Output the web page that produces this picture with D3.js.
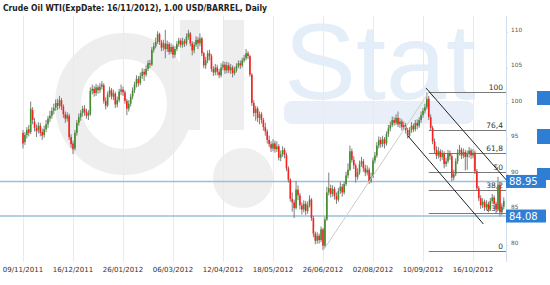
<!DOCTYPE html>
<html>
<head>
<meta charset="utf-8">
<script src="https://cdn.jsdelivr.net/npm/d3@7"></script>
<style>
body { margin: 0; background: #fff; }
svg { display: block; font-family: "DejaVu Sans", Verdana, sans-serif; }
</style>
</head>
<body>
<script>
const title = 'Crude Oil WTI(ExpDate: 16/11/2012), 1.00 USD/BARREL, Daily'

// tick labels, one every 26 bars
const dates = ['09/11/2011', '16/12/2011', '26/01/2012', '06/03/2012', '12/04/2012',
    '18/05/2012', '26/06/2012', '02/08/2012', '10/09/2012', '16/10/2012']
const yTicks = [80, 85, 90, 95, 100, 105, 110]

// daily bars
const opens = [
    95.8, 94.5, 95.5, 96.3, 95.9, 99.0, 97.4, 96.5, 96.2, 96.8,
    95.9, 95.5, 96.3, 97.0, 97.8, 98.2, 98.9, 99.3, 100.0, 99.6,
    100.4, 99.5, 98.4, 97.8, 98.2, 95.2, 94.3, 93.6, 95.8, 97.2,
    98.0, 98.6, 99.2, 98.8, 98.2, 98.4, 101.7, 102.0, 101.4, 102.2,
    101.8, 102.3, 102.5, 100.3, 99.7, 101.2, 101.8, 100.9, 101.3, 99.8,
    100.4, 101.6, 101.9, 101.5, 100.3, 99.2, 99.9, 100.9, 101.8, 102.6,
    103.4, 102.8, 103.8, 104.4, 104.0, 104.8, 105.6, 105.4, 107.5, 108.0,
    108.6, 109.7, 108.6, 107.8, 108.4, 107.6, 108.3, 107.2, 107.9, 106.8,
    107.6, 108.3, 108.8, 108.2, 108.7, 108.4, 109.3, 109.8, 108.4, 107.4,
    108.2, 108.9, 108.4, 109.1, 107.0, 105.3, 106.0, 107.0, 106.6, 104.8,
    104.3, 105.0, 104.4, 103.9, 105.0, 105.4, 104.6, 105.3, 104.6, 105.0,
    104.2, 104.6, 105.2, 105.6, 105.3, 106.0, 106.3, 107.0, 106.6, 104.0,
    100.0, 98.6, 99.2, 97.9, 98.4, 97.6, 96.6, 96.0, 94.8, 94.2,
    93.6, 94.3, 93.5, 93.9, 92.3, 92.8, 93.4, 92.7, 90.8, 89.2,
    86.5, 86.0, 85.2, 87.8, 87.0, 85.6, 85.0, 85.8, 84.8, 85.6,
    86.4, 83.8, 81.6, 80.6, 81.3, 80.7, 82.2, 79.9, 83.6, 87.4,
    88.0, 87.2, 87.9, 86.9, 86.4, 87.6, 88.2, 87.4, 88.6, 89.8,
    90.6, 93.2, 92.0, 91.2, 89.6, 90.2, 91.4, 91.8, 90.8, 90.2,
    90.6, 89.0, 89.6, 91.9, 92.6, 94.0, 94.8, 94.2, 94.9, 94.3,
    95.6, 96.4, 96.9, 97.6, 97.2, 97.9, 97.0, 97.4, 96.6, 96.9,
    96.2, 95.4, 96.2, 96.8, 96.3, 97.2, 96.8, 97.6, 98.3, 98.9,
    99.4, 100.6, 98.0, 96.5, 94.6, 93.4, 92.6, 93.2, 92.4, 92.9,
    91.4, 91.8, 92.9, 92.5, 89.5, 90.0, 91.8, 93.0, 93.4, 92.6,
    93.1, 92.4, 92.8, 93.3, 92.6, 93.0, 90.4, 88.0, 86.6, 85.6,
    86.1, 85.3, 85.8, 85.0, 86.2, 86.7, 85.8, 85.0, 88.5, 84.6,
    85.4
]
const highs = [
    96.2, 95.9, 96.6, 96.9, 100.2, 99.4, 97.9, 97.0, 97.3, 97.2,
    96.4, 96.8, 97.6, 98.2, 98.9, 99.4, 99.9, 100.5, 100.6, 101.0,
    100.7, 99.8, 98.8, 98.7, 98.5, 95.6, 94.7, 96.2, 97.6, 98.5,
    99.0, 99.6, 99.7, 99.2, 99.0, 102.2, 102.6, 102.4, 102.7, 102.5,
    102.8, 103.1, 102.8, 100.8, 101.6, 102.3, 102.1, 101.9, 101.6, 100.9,
    102.0, 102.6, 102.3, 101.8, 100.6, 100.4, 101.3, 102.2, 103.0, 103.9,
    103.8, 104.3, 104.9, 104.8, 105.3, 106.0, 106.1, 107.9, 108.5, 109.2,
    110.1, 109.9, 108.9, 108.9, 110.3, 108.8, 108.6, 108.4, 108.2, 108.0,
    108.7, 109.2, 109.1, 109.2, 109.0, 109.8, 110.3, 110.0, 108.7, 108.6,
    109.4, 109.3, 109.8, 109.3, 107.2, 106.5, 107.4, 107.5, 106.9, 105.2,
    105.5, 105.4, 104.8, 105.6, 105.9, 105.8, 105.8, 105.7, 105.5, 105.3,
    105.1, 105.6, 106.0, 106.0, 106.4, 106.8, 107.6, 107.3, 106.8, 104.2,
    100.4, 99.6, 99.5, 98.8, 98.7, 97.9, 97.2, 96.3, 95.4, 94.6,
    94.9, 94.7, 94.6, 94.2, 93.3, 93.9, 93.7, 93.0, 91.1, 89.4,
    87.4, 86.4, 89.0, 88.4, 87.3, 86.0, 86.3, 86.2, 86.1, 87.0,
    86.6, 84.1, 81.9, 81.8, 81.6, 82.6, 82.4, 84.0, 88.2, 90.2,
    88.5, 88.4, 88.2, 87.4, 88.0, 88.9, 88.6, 89.0, 90.3, 91.5,
    94.0, 93.6, 92.5, 91.5, 90.8, 91.9, 92.4, 92.1, 91.3, 91.2,
    90.9, 90.2, 92.3, 93.1, 94.5, 95.3, 95.2, 95.4, 95.2, 96.0,
    96.9, 97.4, 98.1, 98.0, 98.4, 98.8, 97.9, 97.7, 97.4, 97.2,
    96.5, 96.6, 97.3, 97.1, 97.6, 97.7, 98.0, 98.8, 99.3, 99.9,
    101.5, 101.0, 98.4, 96.8, 95.0, 93.9, 93.8, 93.5, 93.4, 93.2,
    92.3, 93.4, 93.3, 92.8, 90.6, 92.2, 93.5, 94.1, 93.7, 93.6,
    93.4, 93.3, 93.8, 93.6, 93.5, 93.3, 90.7, 88.3, 87.0, 86.6,
    86.4, 86.3, 86.1, 86.6, 87.2, 87.0, 86.1, 89.6, 88.8, 85.9,
    86.7
]
const lows = [
    93.6, 94.1, 95.0, 95.3, 95.6, 97.0, 96.0, 95.2, 95.7, 95.3,
    94.8, 95.1, 95.9, 96.5, 97.3, 97.8, 98.4, 98.9, 99.0, 99.2,
    99.0, 97.9, 97.2, 97.4, 94.8, 93.7, 92.8, 93.3, 95.4, 96.8,
    97.5, 98.1, 98.2, 97.8, 97.6, 98.2, 101.2, 100.9, 101.0, 101.3,
    101.4, 101.9, 99.9, 99.1, 99.4, 100.8, 100.5, 100.4, 99.3, 99.4,
    100.1, 101.1, 101.0, 99.9, 98.3, 98.8, 99.5, 100.5, 101.4, 102.2,
    102.3, 102.5, 103.4, 103.1, 103.7, 104.5, 104.9, 105.2, 107.1, 107.7,
    108.3, 108.2, 107.3, 107.4, 106.3, 107.2, 106.8, 106.9, 106.3, 106.4,
    107.3, 107.9, 107.8, 107.8, 107.9, 108.1, 108.9, 108.0, 106.7, 107.0,
    107.9, 107.6, 108.0, 106.6, 104.9, 104.8, 105.6, 106.0, 104.4, 103.8,
    103.9, 103.9, 103.5, 103.6, 104.6, 104.1, 104.2, 104.2, 104.1, 103.6,
    103.9, 104.3, 104.9, 104.8, 105.0, 105.7, 106.0, 106.2, 103.7, 99.6,
    98.1, 97.5, 97.3, 97.0, 97.1, 96.1, 95.4, 94.3, 93.8, 93.1,
    93.2, 93.0, 93.1, 91.9, 91.8, 92.4, 92.2, 90.4, 88.8, 86.1,
    84.7, 83.8, 85.0, 86.3, 85.0, 84.3, 84.6, 84.2, 84.4, 85.3,
    83.4, 81.1, 80.1, 80.2, 80.2, 80.4, 79.3, 79.6, 83.4, 87.0,
    86.7, 86.8, 86.4, 85.8, 86.1, 87.2, 86.8, 87.1, 88.3, 89.4,
    90.4, 91.6, 90.7, 88.8, 89.2, 89.9, 91.0, 90.3, 89.7, 89.8,
    88.6, 88.7, 89.4, 91.5, 92.3, 93.6, 93.7, 93.8, 93.6, 94.0,
    95.2, 96.0, 96.6, 96.8, 96.9, 96.6, 96.5, 96.1, 96.2, 95.7,
    95.0, 95.1, 95.8, 95.9, 96.0, 96.3, 96.5, 97.2, 97.9, 98.5,
    99.1, 97.6, 96.1, 94.2, 92.9, 92.1, 92.2, 91.8, 92.0, 90.8,
    91.0, 91.5, 92.0, 89.0, 89.1, 89.7, 91.4, 92.6, 92.1, 92.2,
    90.5, 90.6, 92.3, 92.1, 92.2, 90.0, 87.6, 86.2, 85.1, 85.2,
    84.8, 84.9, 84.6, 84.8, 85.8, 85.3, 84.5, 84.8, 84.0, 84.2,
    85.0
]
const closes = [
    94.3, 95.5, 96.2, 95.8, 99.2, 97.6, 96.5, 96.0, 96.8, 95.8,
    95.4, 96.3, 97.0, 97.8, 98.2, 98.9, 99.3, 100.0, 99.6, 100.4,
    99.5, 98.4, 97.8, 98.3, 95.2, 94.2, 93.5, 95.8, 97.2, 98.0,
    98.6, 99.2, 98.7, 98.2, 98.6, 101.7, 102.0, 101.4, 102.2, 101.8,
    102.3, 102.6, 100.3, 99.6, 101.2, 101.8, 100.9, 101.4, 99.8, 100.4,
    101.6, 101.9, 101.5, 100.3, 99.2, 99.9, 100.9, 101.8, 102.6, 103.4,
    102.8, 103.8, 104.4, 104.0, 104.8, 105.6, 105.4, 107.5, 108.0, 108.6,
    109.7, 108.6, 107.8, 108.4, 107.6, 108.3, 107.2, 107.9, 106.8, 107.6,
    108.3, 108.8, 108.2, 108.7, 108.4, 109.3, 109.8, 108.4, 107.4, 108.2,
    108.9, 108.4, 109.1, 107.0, 105.3, 106.0, 107.0, 106.6, 104.8, 104.3,
    105.0, 104.4, 103.9, 105.0, 105.4, 104.6, 105.3, 104.6, 105.0, 104.2,
    104.6, 105.2, 105.6, 105.3, 106.0, 106.3, 107.0, 106.6, 104.0, 100.0,
    98.6, 99.2, 97.9, 98.4, 97.6, 96.6, 96.0, 94.8, 94.2, 93.6,
    94.3, 93.5, 93.9, 92.3, 92.8, 93.4, 92.7, 90.8, 89.2, 86.5,
    86.0, 85.2, 87.8, 87.0, 85.6, 85.0, 85.8, 84.8, 85.6, 86.4,
    83.8, 81.6, 80.6, 81.3, 80.7, 82.2, 79.9, 83.6, 87.4, 88.0,
    87.2, 87.9, 86.9, 86.4, 87.6, 88.2, 87.4, 88.6, 89.8, 90.6,
    93.2, 92.0, 91.2, 89.6, 90.2, 91.4, 91.8, 90.8, 90.2, 90.6,
    89.0, 89.6, 91.9, 92.6, 94.0, 94.8, 94.2, 94.9, 94.3, 95.6,
    96.4, 96.9, 97.6, 97.2, 97.9, 97.0, 97.4, 96.6, 96.9, 96.2,
    95.4, 96.2, 96.8, 96.3, 97.2, 96.8, 97.6, 98.3, 98.9, 99.4,
    100.6, 98.0, 96.5, 94.6, 93.4, 92.6, 93.2, 92.4, 92.9, 91.4,
    91.8, 92.9, 92.5, 89.5, 90.0, 91.8, 93.0, 93.4, 92.6, 93.1,
    92.4, 92.8, 93.3, 92.6, 93.0, 90.4, 88.0, 86.6, 85.6, 86.1,
    85.3, 85.8, 85.0, 86.2, 86.7, 85.8, 85.0, 88.5, 84.6, 85.4,
    86.2
]

// horizontal price lines with their tags
const priceLines = [88.95, 84.08]

// fibonacci retracement between the june low and the september high
const fibLow = { i: 156, p: 79.2 }
const fibHigh = { i: 211, p: 101.5 }
const fibLevels = [0, 23.6, 38.2, 50, 61.8, 76.4, 100]
const fibLabels = ['0', '23,6', '38,2', '50', '61,8', '76,4', '100']

// falling channel (bar index, price)
const channelUpper = [{ i: 209.6, p: 102.1 }, { i: 251.5, p: 89.1 }]
const channelLower = [{ i: 200.2, p: 95.35 }, { i: 239.4, p: 82.95 }]

const width = 550, height = 285
const plotTop = 16, plotBottom = 262, axisX = 506

const svg = d3.select('body').append('svg')
    .attr('width', width)
    .attr('height', height)

const x = d3.scaleLinear().domain([0, 26]).range([23, 73])
const y = d3.scaleLinear().domain([80, 110]).range([245, 32])

// watermark
const wm = svg.append('g').attr('class', 'watermark')
wm.append('ellipse')
    .attr('cx', 124).attr('cy', 104).attr('rx', 56).attr('ry', 58)
    .attr('fill', 'none').attr('stroke', '#eeeeee').attr('stroke-width', 26)
wm.append('rect').attr('x', 180).attr('y', 20).attr('width', 20).attr('height', 110).attr('fill', '#eeeeee')
wm.append('rect').attr('x', 223).attr('y', 20).attr('width', 21).attr('height', 110).attr('fill', '#eeeeee')
wm.append('circle').attr('cx', 243).attr('cy', 178).attr('r', 30).attr('fill', '#efefef')
wm.append('text')
    .attr('x', 284).attr('y', 99)
    .attr('font-family', 'Liberation Sans, Arial, sans-serif')
    .attr('font-size', 108)
    .attr('fill', '#e4eef8')
    .text('Stat')
wm.append('rect')
    .attr('x', 284).attr('y', 101).attr('width', 190).attr('height', 23).attr('rx', 8)
    .attr('fill', '#e9eff8')

// vertical grid
const xTickIdx = dates.map((d, k) => k * 26)
svg.append('g').selectAll('line').data(xTickIdx).enter().append('line')
    .attr('x1', d => Math.round(x(d)) + 0.5)
    .attr('x2', d => Math.round(x(d)) + 0.5)
    .attr('y1', plotTop).attr('y2', plotBottom)
    .attr('stroke', '#e3ebf3').attr('stroke-width', 1)

// right axis line
svg.append('line')
    .attr('x1', axisX + 0.5).attr('x2', axisX + 0.5)
    .attr('y1', plotTop).attr('y2', plotBottom)
    .attr('stroke', '#cfdfee')

// x labels
svg.append('g').selectAll('text').data(dates).enter().append('text')
    .attr('x', (d, k) => x(k * 26))
    .attr('y', 272)
    .attr('text-anchor', 'middle')
    .attr('font-size', 7)
    .attr('fill', '#333')
    .text(d => d)

// y axis
const yAxis = svg.append('g')
    .attr('transform', `translate(${axisX}, 0)`)
    .call(d3.axisRight(y).tickValues(yTicks).tickSize(2).tickPadding(3))
yAxis.select('.domain').remove()
yAxis.selectAll('line').attr('stroke', '#cfdfee')
yAxis.selectAll('text').attr('font-size', 5.8).attr('fill', '#555')
    .attr('font-family', '"DejaVu Sans", Verdana, sans-serif')
    .attr('y', -2.5)

// price lines
svg.append('g').selectAll('line').data(priceLines).enter().append('line')
    .attr('x1', 0).attr('x2', axisX)
    .attr('y1', d => y(d)).attr('y2', d => y(d))
    .attr('stroke', '#98c0d8').attr('stroke-width', 1.5)

// fibonacci
const fibPrice = lvl => fibLow.p + (fibHigh.p - fibLow.p) * lvl / 100
const fib = svg.append('g').attr('class', 'fib')
fib.selectAll('line').data(fibLevels).enter().append('line')
    .attr('x1', x(fibHigh.i)).attr('x2', axisX)
    .attr('y1', d => Math.round(y(fibPrice(d))) + 0.5)
    .attr('y2', d => Math.round(y(fibPrice(d))) + 0.5)
    .attr('stroke', '#7a7a7a').attr('stroke-width', 1)
fib.selectAll('text').data(fibLevels).enter().append('text')
    .attr('x', axisX - 3)
    .attr('y', d => y(fibPrice(d)) - 2)
    .attr('text-anchor', 'end')
    .attr('font-size', 7.5)
    .attr('fill', '#333')
    .text((d, k) => fibLabels[k])

// candles
const idx = d3.range(closes.length)
const candles = svg.append('g').attr('class', 'candles')
candles.selectAll('line').data(idx).enter().append('line')
    .attr('x1', i => x(i)).attr('x2', i => x(i))
    .attr('y1', i => y(highs[i])).attr('y2', i => y(lows[i]))
    .attr('stroke', '#7d7d7d').attr('stroke-width', 1)
candles.selectAll('rect').data(idx).enter().append('rect')
    .attr('x', i => x(i) - 0.8)
    .attr('width', 1.6)
    .attr('y', i => y(Math.max(opens[i], closes[i])))
    .attr('height', i => Math.max(1, Math.abs(y(opens[i]) - y(closes[i]))))
    .attr('fill', i => closes[i] >= opens[i] ? '#3f8f2a' : '#ff1e1e')

// trend line of the retracement
svg.append('line')
    .attr('x1', x(fibLow.i)).attr('y1', y(fibLow.p))
    .attr('x2', x(fibHigh.i)).attr('y2', y(fibHigh.p))
    .attr('stroke', '#cccccc').attr('stroke-width', 1)

// channel
const chLine = d3.line().x(d => x(d.i)).y(d => y(d.p))
;[channelUpper, channelLower].forEach(c => {
    svg.append('path')
        .attr('d', chLine(c))
        .attr('fill', 'none')
        .attr('stroke', '#222')
        .attr('stroke-width', 1)
})

// clipped tags at the right edge
const stubs = svg.append('g')
;[[91, 14], [129, 15], [168, 12]].forEach(([ty, th]) => {
    stubs.append('rect').attr('x', 537).attr('y', ty).attr('width', 13).attr('height', th).attr('fill', '#2e7fd3')
})

// price tags
const tags = svg.append('g').selectAll('g').data(priceLines).enter().append('g')
tags.append('rect')
    .attr('x', axisX).attr('y', d => y(d) - 6.5)
    .attr('width', 40).attr('height', 13)
    .attr('fill', '#2e7fd3')
tags.append('text')
    .attr('x', axisX + 3).attr('y', d => y(d) + 4)
    .attr('font-size', 10)
    .attr('fill', '#fff')
    .text(d => d.toFixed(2))

// title
svg.append('text')
    .attr('x', 3).attr('y', 11)
    .attr('font-size', 8.3)
    .attr('font-weight', 'bold')
    .attr('fill', '#222')
    .attr('textLength', 264)
    .attr('lengthAdjust', 'spacingAndGlyphs')
    .text(title)
</script>
</body>
</html>
